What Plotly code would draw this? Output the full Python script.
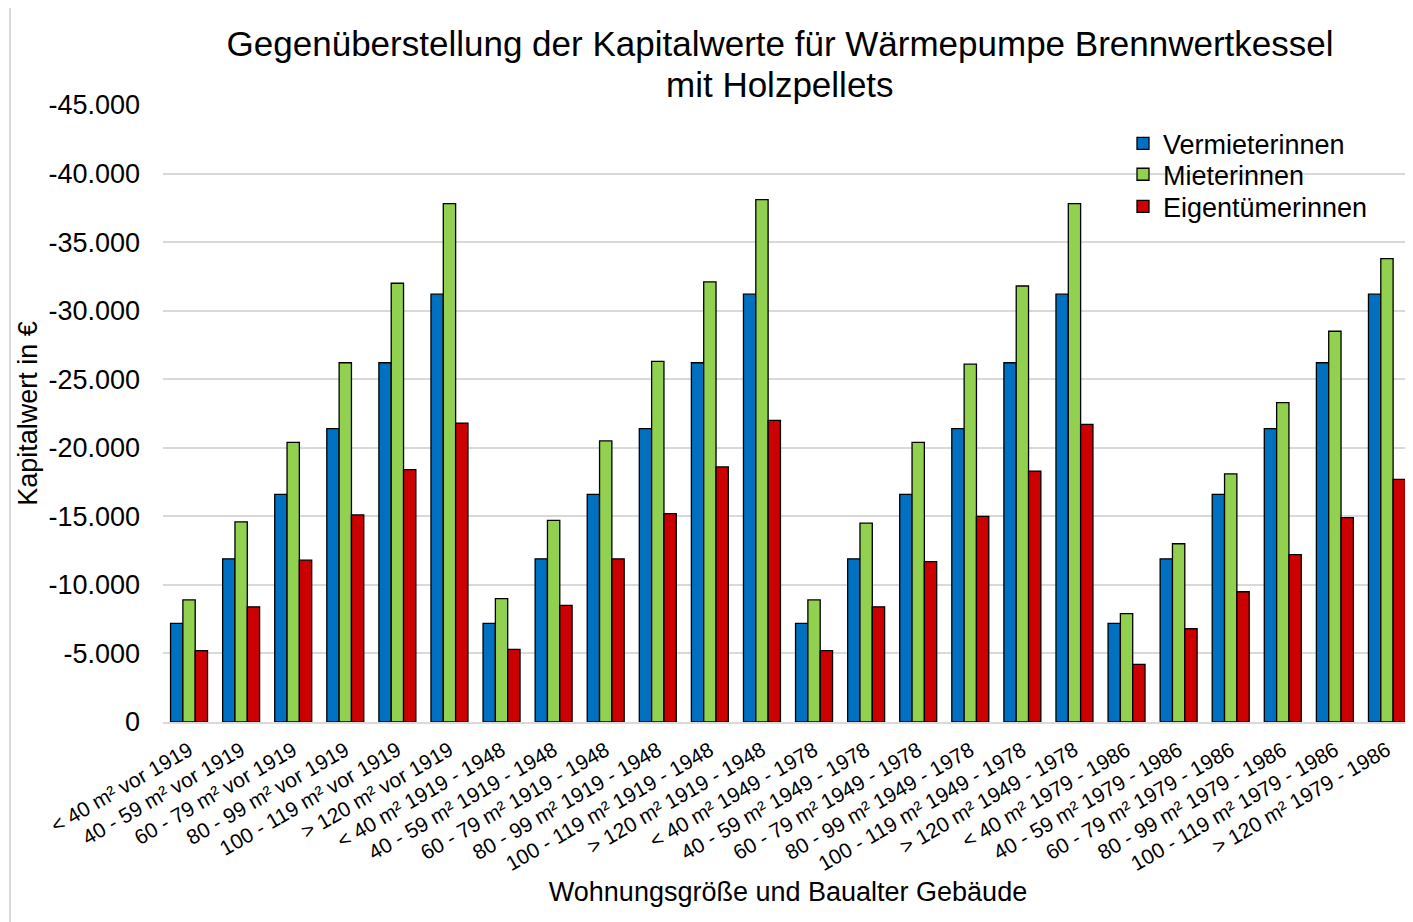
import plotly.graph_objects as go

# Kategorien (Wohnungsgröße + Baualter)
groessen = ["< 40 m²", "40 - 59 m²", "60 - 79 m²", "80 - 99 m²", "100 - 119 m²", "> 120 m²"]
baualter = ["vor 1919", "1919 - 1948", "1949 - 1978", "1979 - 1986"]
kategorien = [f"{g} {b}" for b in baualter for g in groessen]

# Kapitalwerte in €
vermieterinnen = [-7200, -11900, -16600, -21400, -26200, -31200,
                  -7200, -11900, -16600, -21400, -26200, -31200,
                  -7200, -11900, -16600, -21400, -26200, -31200,
                  -7200, -11900, -16600, -21400, -26200, -31200]
mieterinnen = [-8900, -14600, -20400, -26200, -32000, -37800,
               -9000, -14700, -20500, -26300, -32100, -38100,
               -8900, -14500, -20400, -26100, -31800, -37800,
               -7900, -13000, -18100, -23300, -28500, -33800]
eigentuemerinnen = [-5200, -8400, -11800, -15100, -18400, -21800,
                    -5300, -8500, -11900, -15200, -18600, -22000,
                    -5200, -8400, -11700, -15000, -18300, -21700,
                    -4200, -6800, -9500, -12200, -14900, -17700]

y_ticks = [0, -5000, -10000, -15000, -20000, -25000, -30000, -35000, -40000, -45000]
y_ticktext = ["0", "-5.000", "-10.000", "-15.000", "-20.000", "-25.000",
              "-30.000", "-35.000", "-40.000", "-45.000"]

schrift = "Liberation Sans, Arial, sans-serif"

serien = [("Vermieterinnen", vermieterinnen, "#0070C0", "legend", 0.937),
          ("Mieterinnen", mieterinnen, "#92D050", "legend2", 0.887),
          ("Eigentümerinnen", eigentuemerinnen, "#CC0000", "legend3", 0.835)]

fig = go.Figure()
legenden = {}
for name, werte, farbe, leg, ly in serien:
    fig.add_trace(go.Bar(x=kategorien, y=werte, name=name, legend=leg, showlegend=True,
                         marker=dict(color=farbe, line=dict(color="black", width=1.3))))
    # jede Legendenzeile einzeln platzieren (engerer Zeilenabstand wie im Original)
    legenden[leg] = dict(x=0.768, y=ly, xanchor="left", yanchor="middle",
                         bgcolor="rgba(0,0,0,0)", font=dict(size=27), itemwidth=30,
                         borderwidth=0, visible=True)

# Seite hat 8px Rand im Browser -> Ränder entsprechend verschoben
fig.update_layout(
    width=1413, height=922,
    showlegend=True,
    margin=dict(l=155, r=8, t=97, b=208, autoexpand=False),
    paper_bgcolor="white", plot_bgcolor="white",
    font=dict(family=schrift, color="black"),
    barmode="group", bargap=0.29, bargroupgap=0,
    title=dict(text="Gegenüberstellung der Kapitalwerte für Wärmepumpe Brennwertkessel",
               x=0.5464, y=0.961, xref="container", yref="container",
               xanchor="center", yanchor="middle",
               font=dict(size=35, family=schrift, color="black")),
    xaxis=dict(tickangle=-30, tickfont=dict(size=21), showgrid=False, automargin=False,
               showline=True, linecolor="#D9D9D9", linewidth=2,
               ticklabelstandoff=6,
               title=dict(text="Wohnungsgröße und Baualter Gebäude",
                          font=dict(size=27), standoff=8)),
    yaxis=dict(range=[0, -45000], tickmode="array", tickvals=y_ticks, ticktext=y_ticktext,
               tickfont=dict(size=27), showgrid=True, gridcolor="#D9D9D9", gridwidth=2,
               zeroline=False, showline=False, ticklabelstandoff=22, automargin=False,
               title=dict(text="Kapitalwert in €", font=dict(size=27), standoff=2)),
    **legenden,
)

# zweite Titelzeile
fig.add_annotation(text="mit Holzpellets", xref="paper", yref="paper",
                   x=0.4936, y=1.034, xanchor="center", yanchor="middle",
                   showarrow=False, font=dict(size=35, family=schrift, color="black"))

# weiße Fläche hinter der Legende (unterbricht die Gitterlinie)
fig.add_shape(type="rect", xref="paper", yref="paper",
              x0=0.782, x1=0.9696, y0=0.81, y1=0.9595,
              line=dict(width=0), fillcolor="white", layer="between")

# heller Diagrammrahmen wie im Original
fig.add_shape(type="rect", xref="paper", yref="paper",
              x0=-0.1224, x1=1.01, y0=-0.33, y1=1.162,
              line=dict(color="#D9D9D9", width=2), layer="below")

fig.write_html("out.html")
